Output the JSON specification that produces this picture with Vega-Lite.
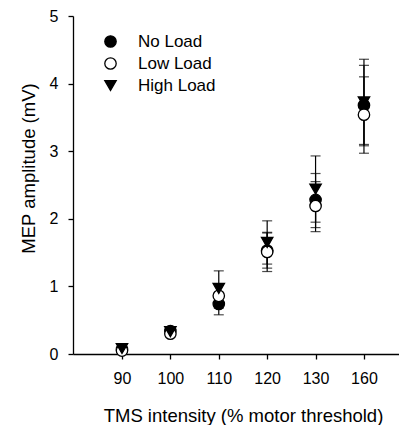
{
  "$schema": "https://vega.github.io/schema/vega-lite/v6.json",
  "width": 326,
  "height": 338,
  "autosize": {"type": "none"},
  "padding": {"left": 73, "top": 16, "right": 0, "bottom": 71},
  "background": "white",
  "config": {
    "view": {"stroke": null},
    "font": "Liberation Sans",
    "axis": {
      "grid": false,
      "domainColor": "black",
      "domainWidth": 1.3,
      "tickColor": "black",
      "tickWidth": 1.3,
      "tickSize": 5,
      "labelColor": "black",
      "labelFontSize": 16,
      "titleColor": "black",
      "titleFontSize": 18.5,
      "titleFontWeight": "normal",
      "labelFont": "Liberation Sans",
      "titleFont": "Liberation Sans"
    }
  },
  "data": {
    "values": [
      {"tms": "90", "load": "No Load", "mean": 0.07, "lo": 0.04, "hi": 0.10},
      {"tms": "90", "load": "Low Load", "mean": 0.05, "lo": 0.02, "hi": 0.08},
      {"tms": "90", "load": "High Load", "mean": 0.08, "lo": 0.05, "hi": 0.11},
      {"tms": "100", "load": "No Load", "mean": 0.34, "lo": 0.29, "hi": 0.39},
      {"tms": "100", "load": "Low Load", "mean": 0.30, "lo": 0.25, "hi": 0.35},
      {"tms": "100", "load": "High Load", "mean": 0.33, "lo": 0.28, "hi": 0.38},
      {"tms": "110", "load": "No Load", "mean": 0.74, "lo": 0.58, "hi": 0.90},
      {"tms": "110", "load": "Low Load", "mean": 0.86, "lo": 0.68, "hi": 1.04},
      {"tms": "110", "load": "High Load", "mean": 0.97, "lo": 0.71, "hi": 1.23},
      {"tms": "120", "load": "No Load", "mean": 1.53, "lo": 1.27, "hi": 1.79},
      {"tms": "120", "load": "Low Load", "mean": 1.51, "lo": 1.22, "hi": 1.80},
      {"tms": "120", "load": "High Load", "mean": 1.65, "lo": 1.33, "hi": 1.97},
      {"tms": "130", "load": "No Load", "mean": 2.28, "lo": 1.87, "hi": 2.67},
      {"tms": "130", "load": "Low Load", "mean": 2.19, "lo": 1.81, "hi": 2.55},
      {"tms": "130", "load": "High Load", "mean": 2.44, "lo": 1.95, "hi": 2.93},
      {"tms": "160", "load": "No Load", "mean": 3.68, "lo": 3.08, "hi": 4.27},
      {"tms": "160", "load": "Low Load", "mean": 3.54, "lo": 2.97, "hi": 4.10},
      {"tms": "160", "load": "High Load", "mean": 3.73, "lo": 3.10, "hi": 4.36}
    ]
  },
  "encoding": {
    "x": {
      "field": "tms",
      "type": "ordinal",
      "sort": ["90", "100", "110", "120", "130", "160"],
      "scale": {"type": "point", "padding": 0.868, "align": 0.583},
      "axis": {
        "title": "TMS intensity (% motor threshold)",
        "labelAngle": 0,
        "labelPadding": 11,
        "titlePadding": 20,
        "titleX": 170
      }
    }
  },
  "layer": [
    {
      "mark": {"type": "rule", "color": "black", "strokeWidth": 1.2},
      "encoding": {
        "y": {
          "field": "lo",
          "type": "quantitative",
          "scale": {"domain": [0, 5], "nice": false},
          "axis": {
            "title": "MEP amplitude (mV)",
            "values": [0, 0.5, 1, 1.5, 2, 2.5, 3, 3.5, 4, 4.5, 5],
            "labelExpr": "datum.value % 1 === 0 ? format(datum.value, 'd') : ''",
            "labelPadding": 10,
            "titlePadding": 11,
            "titleY": 152
          }
        },
        "y2": {"field": "hi"}
      }
    },
    {
      "mark": {"type": "tick", "color": "black", "size": 10, "thickness": 1.2},
      "encoding": {"y": {"field": "lo", "type": "quantitative"}}
    },
    {
      "mark": {"type": "tick", "color": "black", "size": 10, "thickness": 1.2},
      "encoding": {"y": {"field": "hi", "type": "quantitative"}}
    },
    {
      "mark": {"type": "point", "filled": true, "size": 130, "stroke": "black", "strokeWidth": 1.3, "opacity": 1},
      "encoding": {
        "y": {"field": "mean", "type": "quantitative"},
        "fill": {
          "field": "load",
          "type": "nominal",
          "scale": {"domain": ["No Load", "Low Load", "High Load"], "range": ["black", "white", "black"]},
          "legend": {
            "title": null,
            "orient": "none",
            "legendX": 29,
            "legendY": 17,
            "padding": 0,
            "labelFontSize": 17,
            "labelColor": "black",
            "labelFont": "Liberation Sans",
            "symbolSize": 130,
            "symbolStrokeColor": "black",
            "symbolStrokeWidth": 1.3,
            "rowPadding": 4,
            "labelOffset": 19
          }
        },
        "shape": {
          "field": "load",
          "type": "nominal",
          "scale": {"domain": ["No Load", "Low Load", "High Load"], "range": ["circle", "circle", "triangle-down"]}
        }
      }
    }
  ]
}
